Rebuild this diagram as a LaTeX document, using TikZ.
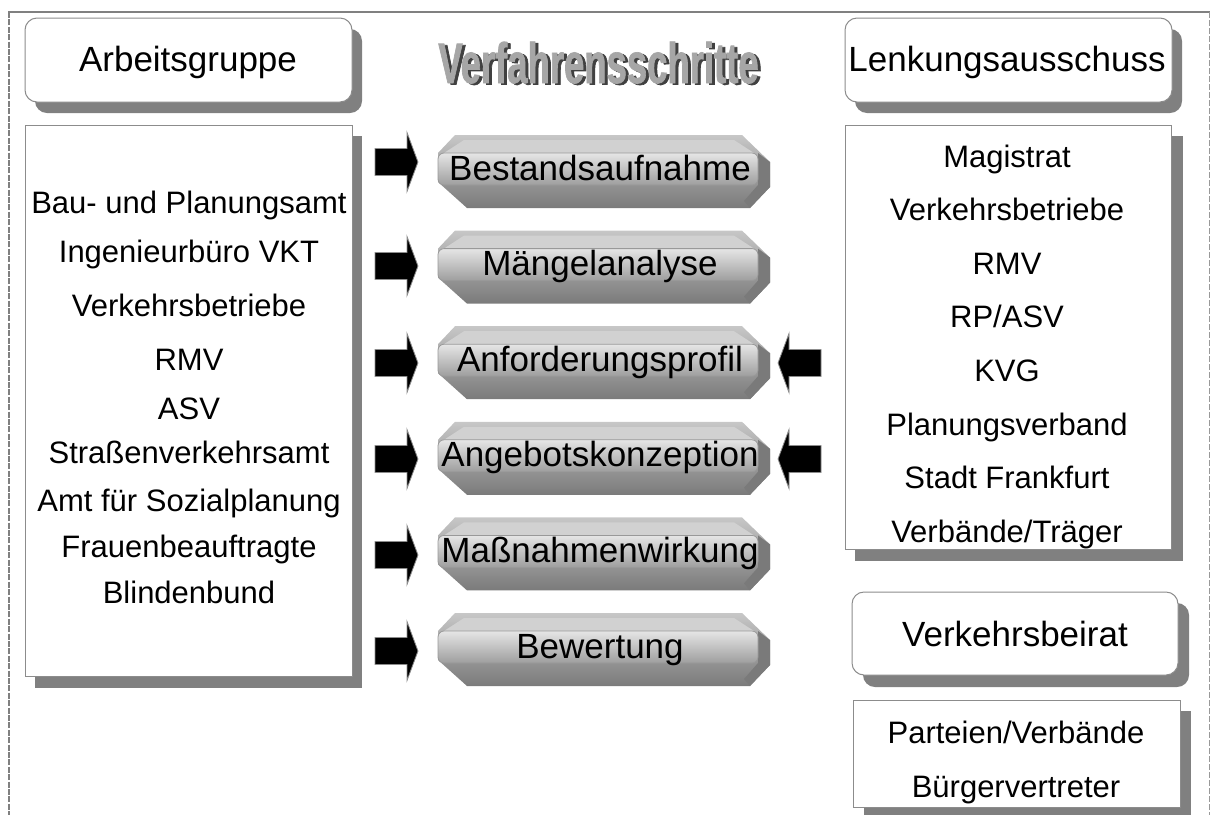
\documentclass[tikz,border=0pt]{standalone}
\usepackage{fontspec}
\setmainfont{Liberation Sans}
\newfontfamily\titlefont[FakeStretch=0.64,FakeBold=1.2]{Liberation Sans Bold}
\definecolor{shadowgray}{gray}{0.5}
\begin{document}
\begin{tikzpicture}[
        x = 0.5pt, y = -0.5pt,
        headbox/.style = {fill=white, draw=black!45, line width=0.5pt, rounded corners=6pt},
        listbox/.style = {fill=white, draw=black!45, line width=0.5pt},
        boxshadow/.style = {fill=shadowgray},
        headtext/.style = {font=\fontsize{17.5}{20}\selectfont, anchor=base, inner sep=0pt},
        itemtext/.style = {font=\fontsize{15.5}{18}\selectfont, anchor=base, inner sep=0pt},
        steptext/.style = {font=\fontsize{17.5}{20}\selectfont, anchor=base, inner sep=0pt},
        titletext/.style = {font=\titlefont\fontsize{28.5}{30}\selectfont, anchor=base, inner sep=0pt},
        blockarrow/.style = {fill=black, draw=black!45, line width=0.4pt},
        stepshape/.pic = {
          \shade[top color=black!22, bottom color=black!52]
            (-149,-36) -- (138,-36) -- (166,-9) -- (166,16) -- (146,37) -- (-137,37) -- (-166,11) -- (-166,-18) -- cycle;
          \fill[black!18] (-140,-31) -- (130,-31) -- (150,-18) -- (-160,-18) -- cycle;
          \fill[black!52] (154,-18) -- (166,-9) -- (166,16) -- (146,37) -- (140,30) -- (154,14) -- cycle;
          \shade[top color=black!10, middle color=white, bottom color=black!38, draw=black!40, line width=0.4pt, rounded corners=3pt]
            (-166,-18) rectangle (154,14);
        },
        rarrow/.pic = {
          \filldraw[blockarrow] (-43,-13.5) -- (-11,-13.5) -- (-11,-29.5) -- (0,0) -- (-11,29.5) -- (-11,13.5) -- (-43,13.5) -- cycle;
        },
        larrow/.pic = {
          \filldraw[blockarrow] (43,-13.5) -- (11,-13.5) -- (11,-29.5) -- (0,0) -- (11,29.5) -- (11,13.5) -- (43,13.5) -- cycle;
        }]
      \useasboundingbox (0,0) rectangle (1210,815);
      \draw[shadowgray, line width=1pt] (8,12) -- (1210,12);
      \draw[shadowgray, line width=1pt, dash pattern=on 3pt off 0.7pt] (9,12) -- (9,815);
      \draw[black!40, line width=0.4pt, dash pattern=on 3pt off 1pt] (1209,12) -- (1209,815);

      \fill[boxshadow, rounded corners=6pt] (35,29) rectangle (362,113);
      \draw[headbox] (25,18) rectangle (352,102);
      \node[headtext] (ag) at (188,71) {Arbeitsgruppe};
      \fill[boxshadow] (35,136) rectangle (362,688);
      \draw[listbox] (25,125) rectangle (352,676);
      \foreach \txt/\yy [count=\i] in {Bau- und Planungsamt/213, Ingenieurbüro VKT/262, Verkehrsbetriebe/316,
          RMV/370, ASV/419, Straßenverkehrsamt/463, Amt für Sozialplanung/511, Frauenbeauftragte/557, Blindenbund/603}
        \node[itemtext] (ag\i) at (189,\yy) {\txt};

      \fill[boxshadow, rounded corners=6pt] (855,29) rectangle (1182,113);
      \draw[headbox] (845,18) rectangle (1172,102);
      \node[headtext] (la) at (1007,71) {Lenkungsausschuss};
      \fill[boxshadow] (855,136) rectangle (1183,561);
      \draw[listbox] (845,125) rectangle (1171,549);
      \foreach \txt [count=\i] in {Magistrat, Verkehrsbetriebe, RMV, RP/ASV, KVG, Planungsverband,
          Stadt Frankfurt, Verbände/Träger}
        \node[itemtext] (la\i) at (1007,{167+53.6*(\i-1)}) {\txt};

      \fill[boxshadow, rounded corners=6pt] (863,603) rectangle (1189,687);
      \draw[headbox] (852,592) rectangle (1178,675);
      \node[headtext] (vb) at (1015,646) {Verkehrsbeirat};
      \fill[boxshadow] (864,711) rectangle (1191,815);
      \draw[listbox] (853,700) rectangle (1180,807);
      \node[itemtext] (vb1) at (1016,743) {Parteien/Verbände};
      \node[itemtext] (vb2) at (1016,797) {Bürgervertreter};

      \node[titletext, text=black!75] (titleshadow) at (601.5,84.5) {Verfahrensschritte};
      \node[titletext, text=black!35] (title) at (598.5,83) {Verfahrensschritte};

      \foreach \txt/\yy/\ay [count=\i] in {Bestandsaufnahme/171/162, Mängelanalyse/266.6/266,
          Anforderungsprofil/362.2/363, Angebotskonzeption/457.8/459, Maßnahmenwirkung/553.4/555, Bewertung/649/651} {
        \pic at (604,\yy) {stepshape};
        \node[steptext] (step\i) at (600,\yy+9) {\txt};
        \pic at (418,\ay) {rarrow};
      }
      \pic at (778,363) {larrow};
      \pic at (778,459) {larrow};
    \end{tikzpicture}
\end{document}
